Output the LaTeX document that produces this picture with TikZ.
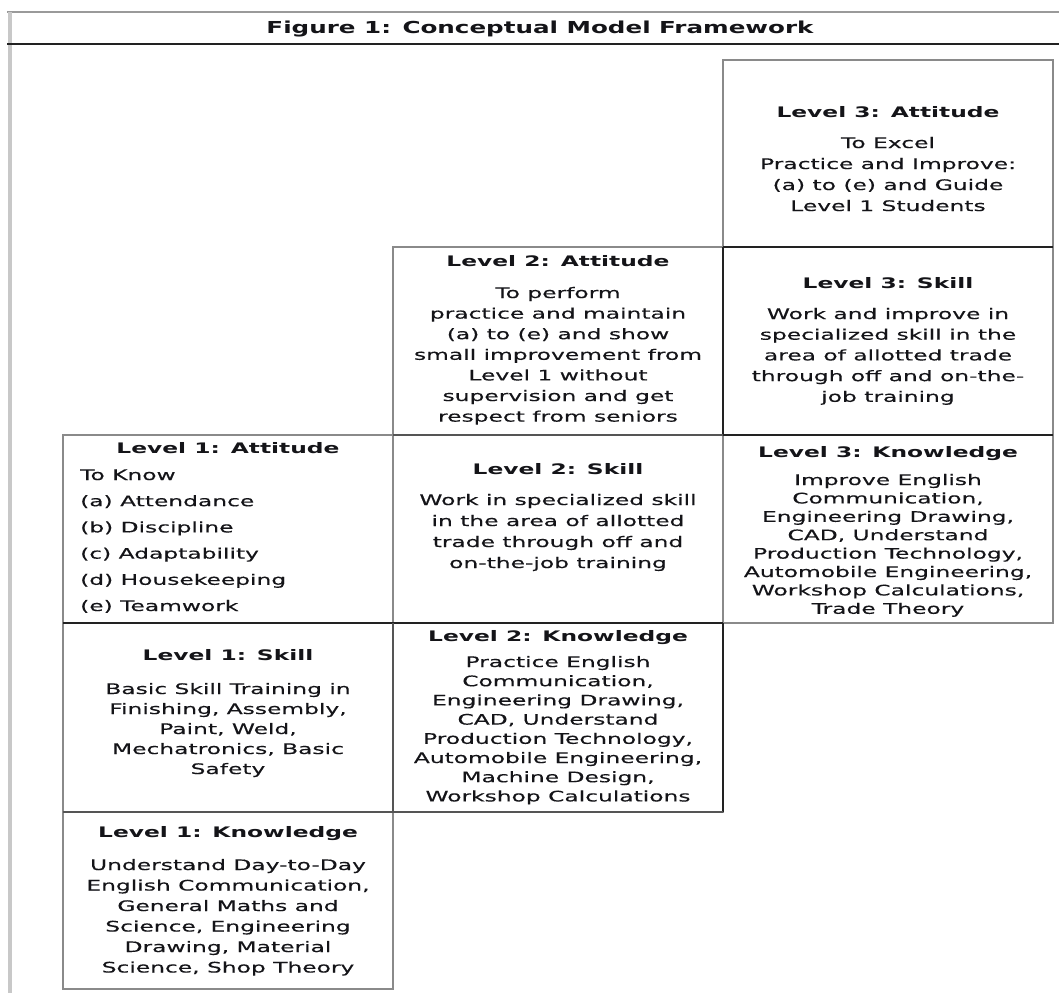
\documentclass[tikz,border=0pt]{standalone}
\usepackage{fontspec}
\setmainfont{DejaVu Sans}[FakeStretch=1.61, UprightFeatures={FakeBold=0.35}]
\newfontfamily\headfont{DejaVu Sans}[FakeStretch=1.49]
\usepackage{array}

\definecolor{ink}{HTML}{141418}
\definecolor{cellgray}{HTML}{8A8A8A}
\definecolor{cellmid}{HTML}{555555}
\definecolor{celldark}{HTML}{222222}
\definecolor{framegray}{HTML}{9A9A9A}
\definecolor{framelight}{HTML}{C8C8C8}

% centred block of lines; #1 = line pitch
\newcommand\clines[2]{\fontsize{14.5}{#1}\selectfont\begin{tabular}[t]{@{}c@{}}#2\end{tabular}}
% left-aligned block of lines
\newcommand\llines[2]{\fontsize{14.5}{#1}\selectfont\begin{tabular}[t]{@{}l@{}}#2\end{tabular}}

\begin{document}
\begin{tikzpicture}[x=1pt,y=-1pt,
  cell/.style={draw=cellgray, line width=1.6pt, rectangle, inner sep=0pt,
               outer sep=0pt, minimum width=330pt, anchor=north west},
  darkedge/.style={draw=celldark, line width=1.6pt},
  midedge/.style={draw=cellmid, line width=1.6pt},
  head/.style={inner sep=0pt, anchor=base, text=ink,
               font=\bfseries\fontsize{14.5}{17}\selectfont},
  body/.style={inner sep=0pt, anchor=base, text=ink},
  caption/.style={inner sep=0pt, anchor=base, text=ink,
               font=\headfont\bfseries\fontsize{16.5}{19}\selectfont},
]
\useasboundingbox (0,0) rectangle (1059,993);

% outer frame and caption bar
\draw[framegray, line width=1.2pt] (7,12) -- (1059,12);
\draw[framelight, line width=3.5pt] (10,12) -- (10,993);
\draw[celldark, line width=2pt] (7,44) -- (1059,44);
\node[caption] (caption) at (540,33.5) {Figure 1: Conceptual Model Framework};

% staircase of cells
\node[cell, minimum height=187pt] (l3a) at (723,60)  {};
\node[cell, minimum height=188pt] (l2a) at (393,247) {};
\node[cell, minimum height=188pt] (l3s) at (723,247) {};
\node[cell, minimum height=188pt] (l1a) at (63,435)  {};
\node[cell, minimum height=188pt] (l2s) at (393,435) {};
\node[cell, minimum height=188pt] (l3k) at (723,435) {};
\node[cell, minimum height=189pt] (l1s) at (63,623)  {};
\node[cell, minimum height=189pt] (l2k) at (393,623) {};
\node[cell, minimum height=177pt] (l1k) at (63,812)  {};

% heavier cell rules
\draw[darkedge] (l1s.north west) -- (l2k.north east);
\draw[darkedge] (l2k.north east) -- (l2k.south east);
\draw[darkedge] (l3s.north west) -- (l3s.south west);
\draw[darkedge] (l3s.south west) -- (l3s.south east);
\draw[darkedge] (l3a.south west) -- (l3a.south east);
\draw[midedge] (l1s.south west) -- (l2k.south east);
\draw[midedge] (l2a.south west) -- (l2a.south east);
\draw[midedge] (l1s.north east) -- (l1s.south east);

% Level 3: Attitude
\node[head] (l3a-t) at (888,117) {Level 3: Attitude};
\node[body] (l3a-b) at (888,148) {\clines{21pt}{To Excel\\Practice and Improve:\\(a) to (e) and Guide\\Level 1 Students}};

% Level 2: Attitude
\node[head] (l2a-t) at (558,266) {Level 2: Attitude};
\node[body] (l2a-b) at (558,298) {\clines{20.6pt}{To perform\\practice and maintain\\(a) to (e) and show\\small improvement from\\Level 1 without\\supervision and get\\respect from seniors}};

% Level 3: Skill
\node[head] (l3s-t) at (888,288) {Level 3: Skill};
\node[body] (l3s-b) at (888,319) {\clines{20.7pt}{Work and improve in\\specialized skill in the\\area of allotted trade\\through off and on-the-\\job training}};

% Level 1: Attitude
\node[head] (l1a-t) at (228,453) {Level 1: Attitude};
\node[body, anchor=base west] (l1a-b) at (80,480) {\llines{26.2pt}{To Know\\(a) Attendance\\(b) Discipline\\(c) Adaptability\\(d) Housekeeping\\(e) Teamwork}};

% Level 2: Skill
\node[head] (l2s-t) at (558,474) {Level 2: Skill};
\node[body] (l2s-b) at (558,505) {\clines{21pt}{Work in specialized skill\\in the area of allotted\\trade through off and\\on-the-job training}};

% Level 3: Knowledge
\node[head] (l3k-t) at (888,457) {Level 3: Knowledge};
\node[body] (l3k-b) at (888,485) {\clines{18.4pt}{Improve English\\Communication,\\Engineering Drawing,\\CAD, Understand\\Production Technology,\\Automobile Engineering,\\Workshop Calculations,\\Trade Theory}};

% Level 1: Skill
\node[head] (l1s-t) at (228,660) {Level 1: Skill};
\node[body] (l1s-b) at (228,694) {\clines{20pt}{Basic Skill Training in\\Finishing, Assembly,\\Paint, Weld,\\Mechatronics, Basic\\Safety}};

% Level 2: Knowledge
\node[head] (l2k-t) at (558,641) {Level 2: Knowledge};
\node[body] (l2k-b) at (558,667) {\clines{19.2pt}{Practice English\\Communication,\\Engineering Drawing,\\CAD, Understand\\Production Technology,\\Automobile Engineering,\\Machine Design,\\Workshop Calculations}};

% Level 1: Knowledge
\node[head] (l1k-t) at (228,837) {Level 1: Knowledge};
\node[body] (l1k-b) at (228,870) {\clines{20.5pt}{Understand Day-to-Day\\English Communication,\\General Maths and\\Science, Engineering\\Drawing, Material\\Science, Shop Theory}};
\end{tikzpicture}
\end{document}
